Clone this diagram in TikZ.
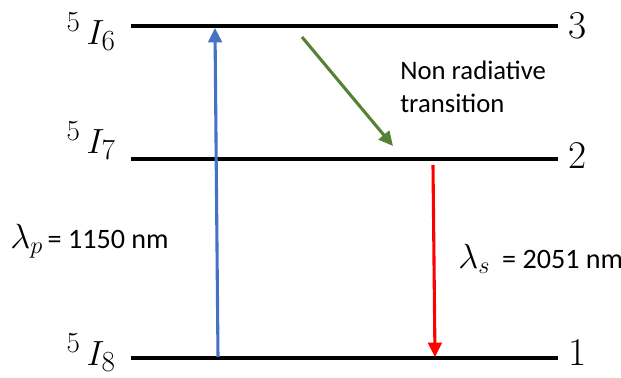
\documentclass[tikz,border=0pt]{standalone}
\usepackage{fontspec}
\newfontfamily\calibri{Carlito}
\usetikzlibrary{arrows.meta}
\definecolor{pumpblue}{RGB}{68,114,196}
\definecolor{decaygreen}{RGB}{84,130,53}
\definecolor{laserred}{RGB}{255,0,0}

\begin{document}
\begin{tikzpicture}[
    level/.style={line width=2.2pt, black},
    transarrow/.style={-{Triangle[length=3.6mm, width=3.4mm]}, line width=2.2pt},
    lvlname/.style={anchor=base east, inner sep=0pt, font=\fontsize{28}{32}\selectfont},
    lvlnum/.style={anchor=base west, inner sep=0pt, font=\fontsize{28}{32}\selectfont},
    note/.style={inner sep=0pt, font=\calibri\fontsize{19}{23}\selectfont},
    wavelbl/.style={inner sep=0pt, anchor=base west, font=\calibri\fontsize{20}{24}\selectfont},
]
\useasboundingbox (0,0) rectangle (15.525,9.425);

% ─── Energy levels ───────────────────────────────────────────────
\coordinate (L3w) at (3.275, 8.775);
\coordinate (L3e) at (13.95, 8.775);
\coordinate (L2w) at (3.275, 5.45);
\coordinate (L2e) at (13.95, 5.45);
\coordinate (L1w) at (3.275, 0.475);
\coordinate (L1e) at (13.95, 0.475);

\draw[level] (L3w) -- (L3e);
\draw[level] (L2w) -- (L2e);
\draw[level] (L1w) -- (L1e);

\node[lvlname] (name3) at (2.9, 8.325) {${}^{5}\,I_{6}$};
\node[lvlname] (name2) at (2.9, 5.60)  {${}^{5}\,I_{7}$};
\node[lvlname] (name1) at (2.9, 0.30)  {${}^{5}\,I_{8}$};

\node[lvlnum] (num3) at (14.2, 8.475) {3};
\node[lvlnum] (num2) at (14.2, 5.225) {2};
\node[lvlnum] (num1) at (14.2, 0.30)  {1};

% ─── Transitions ─────────────────────────────────────────────────
\coordinate (pumplo)  at (5.45, 0.50);
\coordinate (pumphi)  at (5.375, 8.725);
\coordinate (decayhi) at (7.55, 8.50);
\coordinate (decaylo) at (9.825, 5.775);
\coordinate (laserhi) at (10.825, 5.30);
\coordinate (laserlo) at (10.875, 0.50);

\draw[transarrow, color=pumpblue]   (pumplo)  -- (pumphi);
\draw[transarrow, color=decaygreen] (decayhi) -- (decaylo);
\draw[transarrow, color=laserred]   (laserhi) -- (laserlo);

% ─── Labels ──────────────────────────────────────────────────────
\node[note, anchor=north west, align=left] (nonrad) at (10.0, 7.90)
  {Non radiative\\transition};
\node[wavelbl] (pumplbl) at (0.25, 3.225)
  {{\fontsize{26}{30}\selectfont$\lambda_p$}\hspace{0.12cm}= 1150 nm};
\node[wavelbl] (laserlbl) at (11.45, 2.725)
  {{\fontsize{26}{30}\selectfont$\lambda_s$}\hspace{0.3cm}= 2051 nm};

\end{tikzpicture}
\end{document}
